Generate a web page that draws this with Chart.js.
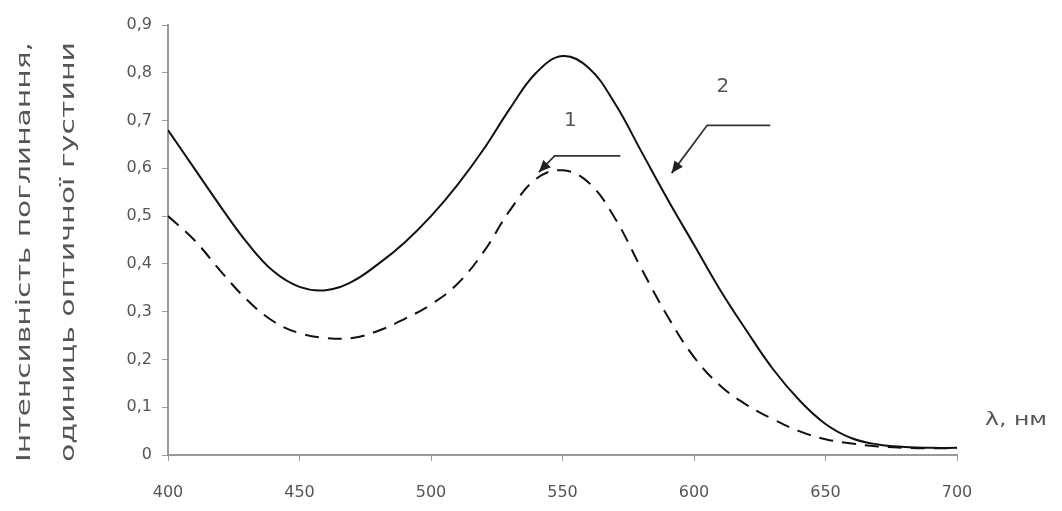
<!DOCTYPE html>
<html>
<head>
<meta charset="utf-8">
<script src="https://cdn.jsdelivr.net/npm/chart.js@4.4.1/dist/chart.umd.min.js"></script>
<style>
  body { margin: 0; background: #fff; }
  #wrap { width: 1062px; height: 511px; }
</style>
</head>
<body>
<div id="wrap"><canvas id="spectrum"></canvas></div>
<script>
// wavelength, nm
const wavelengths = [400, 410, 420, 430, 440, 450, 460, 470, 480, 490, 500, 510, 520, 530, 540, 550,
  560, 570, 580, 590, 600, 610, 620, 630, 640, 650, 660, 670, 680, 690, 700];
// curve 2 (solid)
const curve2 = [0.68, 0.60, 0.52, 0.445, 0.385, 0.352, 0.345, 0.363, 0.40, 0.445, 0.50, 0.565, 0.64, 0.725, 0.80, 0.835,
  0.81, 0.735, 0.635, 0.535, 0.44, 0.345, 0.26, 0.18, 0.115, 0.065, 0.035, 0.022, 0.017, 0.015, 0.015];
// curve 1 (dashed)
const curve1 = [0.50, 0.45, 0.385, 0.325, 0.28, 0.255, 0.245, 0.245, 0.26, 0.285, 0.315, 0.358, 0.425, 0.512, 0.578, 0.596,
  0.57, 0.495, 0.39, 0.29, 0.205, 0.145, 0.105, 0.075, 0.05, 0.033, 0.024, 0.018, 0.015, 0.014, 0.014];

const yTitle = ["Інтенсивність поглинання,", "одиниць оптичної густини"];
const xTitle = "λ, нм";

// callouts: label position, arrow tip, elbow, line end (in data units)
const callouts = [
  { text: "1", label: [553, 0.70], tip: [541, 0.592], elbow: [547, 0.626], end: [572, 0.626] },
  { text: "2", label: [611, 0.77], tip: [591.5, 0.59], elbow: [605, 0.69], end: [629, 0.69] }
];

const textColor = "#555";
const axisColor = "#9a9a9a";

const annotate = {
  id: "annotate",
  afterDraw(chart) {
    const { ctx, scales: { x, y }, chartArea } = chart;
    ctx.save();
    // y title, two rotated lines
    ctx.fillStyle = textColor;
    ctx.font = "20px 'DejaVu Sans'";
    ctx.textAlign = "center";
    ctx.textBaseline = "middle";
    const cols = [25, 69];
    yTitle.forEach((t, i) => {
      ctx.save();
      ctx.translate(cols[i], 252);
      ctx.rotate(-Math.PI / 2);
      const w = ctx.measureText(t).width;
      ctx.scale(420 / w, 1);
      ctx.fillText(t, 0, 0);
      ctx.restore();
    });
    // x title at the right of the axis
    ctx.font = "18px 'DejaVu Sans'";
    ctx.textAlign = "left";
    ctx.save();
    ctx.translate(chartArea.right + 28, y.getPixelForValue(0.073));
    ctx.scale(62 / ctx.measureText(xTitle).width, 1);
    ctx.fillText(xTitle, 0, 0);
    ctx.restore();

    // callouts
    ctx.strokeStyle = "#333";
    ctx.lineWidth = 1.8;
    callouts.forEach(c => {
      const tx = x.getPixelForValue(c.tip[0]), ty = y.getPixelForValue(c.tip[1]);
      const ex = x.getPixelForValue(c.elbow[0]), ey = y.getPixelForValue(c.elbow[1]);
      const nx = x.getPixelForValue(c.end[0]), ny = y.getPixelForValue(c.end[1]);
      ctx.beginPath();
      ctx.moveTo(tx, ty);
      ctx.lineTo(ex, ey);
      ctx.lineTo(nx, ny);
      ctx.stroke();
      const a = Math.atan2(ty - ey, tx - ex);
      const len = 13, half = 0.42;
      ctx.fillStyle = "#222";
      ctx.beginPath();
      ctx.moveTo(tx, ty);
      ctx.lineTo(tx - len * Math.cos(a - half), ty - len * Math.sin(a - half));
      ctx.lineTo(tx - len * Math.cos(a + half), ty - len * Math.sin(a + half));
      ctx.closePath();
      ctx.fill();
      ctx.font = "20px 'DejaVu Sans'";
      ctx.textAlign = "center";
      ctx.fillStyle = textColor;
      ctx.fillText(c.text, x.getPixelForValue(c.label[0]), y.getPixelForValue(c.label[1]));
    });
    ctx.restore();
  }
};

new Chart(document.getElementById("spectrum"), {
  type: "line",
  data: {
    labels: wavelengths,
    datasets: [
      {
        label: "2",
        data: wavelengths.map((w, i) => ({ x: w, y: curve2[i] })),
        borderColor: "#111",
        borderWidth: 2,
        pointRadius: 0,
        tension: 0.4,
        fill: false
      },
      {
        label: "1",
        data: wavelengths.map((w, i) => ({ x: w, y: curve1[i] })),
        borderColor: "#111",
        borderWidth: 2,
        borderDash: [14, 9],
        pointRadius: 0,
        tension: 0.4,
        fill: false
      }
    ]
  },
  options: {
    responsive: true,
    maintainAspectRatio: false,
    animation: false,
    layout: { padding: { top: 25, right: 105, left: 0, bottom: 0 } },
    plugins: { legend: { display: false }, tooltip: { enabled: false } },
    scales: {
      x: {
        type: "linear",
        min: 400,
        max: 700,
        afterFit: s => { s.height = 56; },
        ticks: { stepSize: 50, color: textColor, font: { family: "DejaVu Sans", size: 16 }, padding: 22 },
        grid: { drawOnChartArea: false, tickLength: 6, color: axisColor },
        border: { color: axisColor, width: 2 }
      },
      y: {
        min: 0,
        max: 0.9,
        afterFit: s => { s.width = 168; },
        ticks: {
          stepSize: 0.1,
          color: textColor,
          font: { family: "DejaVu Sans", size: 16 },
          padding: 10,
          callback: v => v === 0 ? "0" : v.toFixed(1).replace(".", ",")
        },
        grid: { drawOnChartArea: false, tickLength: 6, color: axisColor },
        border: { color: axisColor, width: 2 }
      }
    }
  },
  plugins: [annotate]
});
</script>
</body>
</html>
